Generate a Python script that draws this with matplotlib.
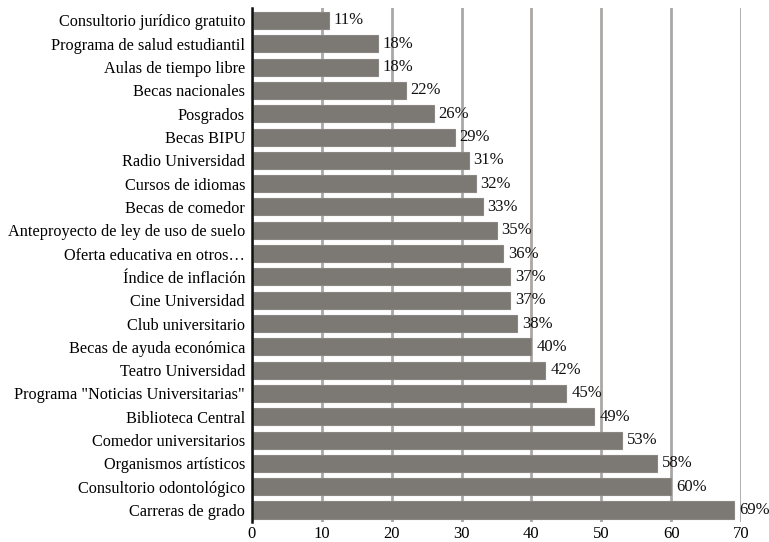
import matplotlib
matplotlib.use("Agg")
import matplotlib.pyplot as plt

categories = [
    "Consultorio jurídico gratuito",
    "Programa de salud estudiantil",
    "Aulas de tiempo libre",
    "Becas nacionales",
    "Posgrados",
    "Becas BIPU",
    "Radio Universidad",
    "Cursos de idiomas",
    "Becas de comedor",
    "Anteproyecto de ley de uso de suelo",
    "Oferta educativa en otros…",
    "Índice de inflación",
    "Cine Universidad",
    "Club universitario",
    "Becas de ayuda económica",
    "Teatro Universidad",
    'Programa "Noticias Universitarias"',
    "Biblioteca Central",
    "Comedor universitarios",
    "Organismos artísticos",
    "Consultorio odontológico",
    "Carreras de grado",
]
values = [11, 18, 18, 22, 26, 29, 31, 32, 33, 35, 36, 37, 37, 38, 40, 42, 45, 49, 53, 58, 60, 69]
xticks = [0, 10, 20, 30, 40, 50, 60, 70]

plt.rcParams['font.family'] = ['Liberation Serif', 'DejaVu Serif']

fig = plt.figure(figsize=(7.69, 5.42), dpi=100)
ax = fig.add_axes([252/769, 20/542, (741-252)/769, (534-20)/542])

ypos = list(range(len(categories)))
ax.barh(ypos, values, height=0.73, color='#7c7975', edgecolor='#8a8783', linewidth=0.8, zorder=3)
for y, v in zip(ypos, values):
    ax.annotate(f"{v}%", xy=(v, y), xytext=(3.5, 0), textcoords='offset points',
                va='center', ha='left', fontsize=12, color='#111111', zorder=4)

ax.set_yticks(ypos)
ax.set_yticklabels(categories, fontsize=11.7)
ax.set_xticks(xticks)
ax.set_xticklabels([str(t) for t in xticks], fontsize=12)
ax.set_xlim(0, 70)
ax.set_ylim(21.515, -0.536)
ax.grid(axis='x', color='#aaa7a4', linewidth=2, zorder=0)
for s in ['top', 'right', 'bottom']:
    ax.spines[s].set_visible(False)
ax.spines['left'].set_color('#111111')
ax.spines['left'].set_linewidth(1.8)
ax.spines['left'].set_zorder(5)
ax.tick_params(axis='y', length=0, pad=5)
ax.tick_params(axis='x', length=0, pad=3)

fig.savefig("out.png", dpi=100)
